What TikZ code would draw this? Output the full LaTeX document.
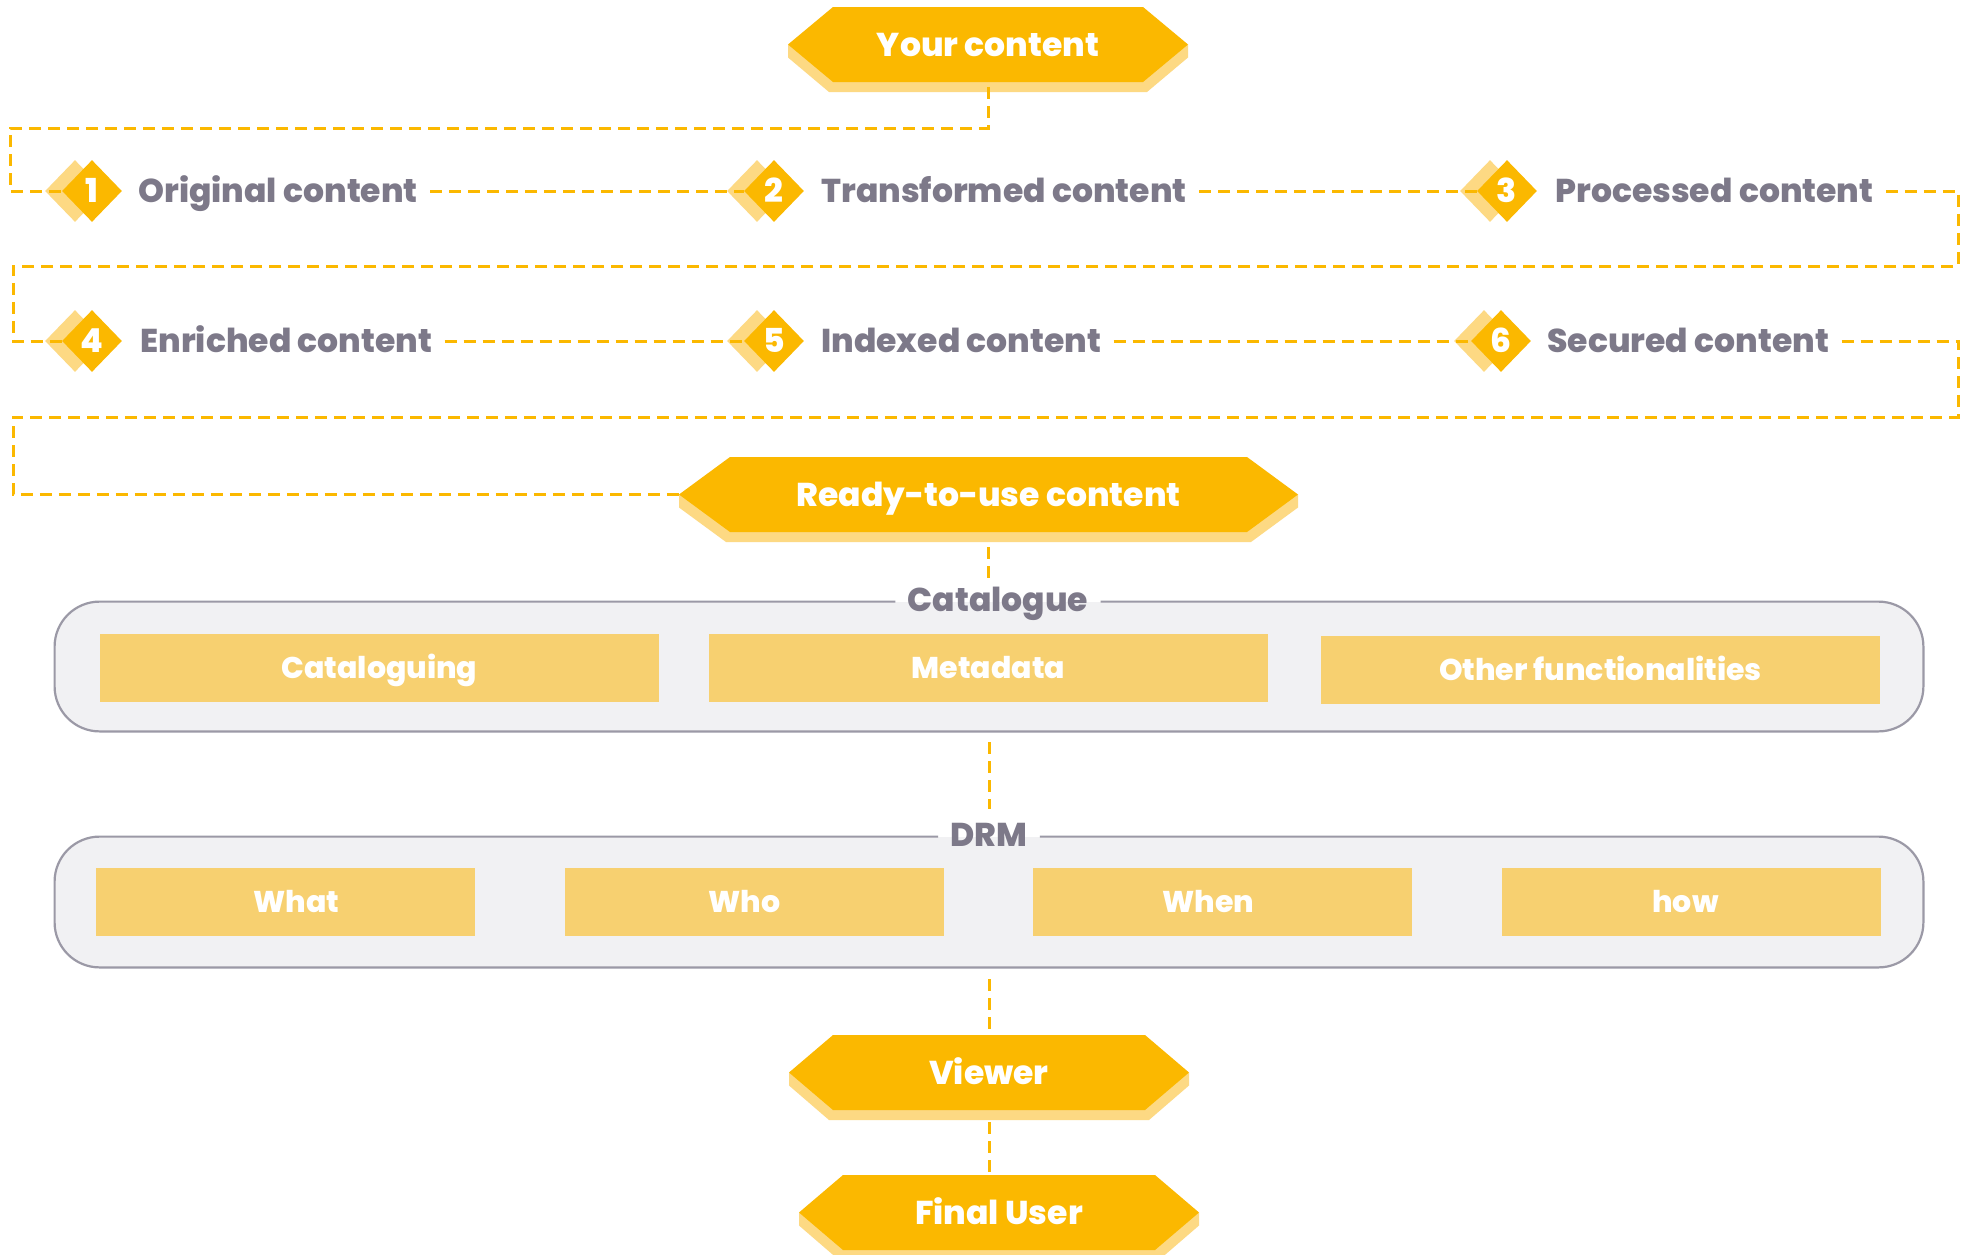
\documentclass[tikz,border=0pt]{standalone}
\usepackage{fontspec}
\setmainfont{Poppins}[BoldFont={Poppins ExtraBold}]
\usetikzlibrary{shapes.geometric}
\definecolor{orn}{HTML}{FBB800}
\definecolor{shd}{HTML}{FDD983}
\definecolor{inb}{HTML}{F7D070}
\definecolor{boxf}{HTML}{F1F1F3}
\definecolor{boxl}{HTML}{9B99A6}
\definecolor{txtg}{HTML}{7D7989}
\pgfdeclarelayer{bglayer}
\pgfdeclarelayer{shadowlayer}
\pgfdeclarelayer{linelayer}
\pgfsetlayers{bglayer,shadowlayer,linelayer,main}
\newcommand{\lblfont}{\bfseries\fontsize{16.5}{20}\selectfont}
\newcommand{\inbfont}{\bfseries\fontsize{15}{18}\selectfont}
\tikzset{
  capbox/.style={text height=11.5pt, text depth=0pt, inner ysep=0pt},
  hextext/.style={capbox, inner xsep=0pt, text=white, font=\lblfont},
  lbl/.style={capbox, inner xsep=6pt, anchor=west, text=txtg, font=\lblfont},
  dia/.style={diamond, aspect=1, minimum width=30pt, minimum height=31pt, inner sep=0pt, fill=orn, text=white, font=\lblfont, text height=11.5pt, text depth=0pt},
  diash/.style={diamond, aspect=1, minimum width=30pt, minimum height=31pt, inner sep=0pt, fill=shd},
  dashc/.style={draw=orn, line width=1.5pt, dash pattern=on 6pt off 3.5pt},
  boxline/.style={draw=boxl, line width=1.1pt, rounded corners=22.5pt},
  bigbox/.style={fill=boxf, rounded corners=22.5pt, inner sep=0pt, minimum width=934pt},
  ibox/.style={text height=10.5pt, text depth=0pt, inner ysep=0pt, fill=inb, minimum height=34pt, inner xsep=0pt, text=white, font=\inbfont},
  grplbl/.style={capbox, inner xsep=6pt, text=txtg, font=\lblfont},
}
% name, L, R, top, bottom, indent, text
\newcommand{\myhex}[7]{%
  \begin{pgfonlayer}{shadowlayer}
    \fill[shd] (#2,{(#4+#5)/2+13}) -- (#2+#6-4,#5+10) -- (#3-#6+4,#5+10) -- (#3,{(#4+#5)/2+13}) -- (#3,{(#4+#5)/2}) -- (#2,{(#4+#5)/2}) -- cycle;
  \end{pgfonlayer}
  \fill[orn] (#2,{(#4+#5)/2}) -- (#2+#6,#4) -- (#3-#6,#4) -- (#3,{(#4+#5)/2}) -- (#3-#6,#5) -- (#2+#6,#5) -- cycle;
  \node[hextext, minimum height={(#5-#4)*0.5pt}] (#1) at ({(#2+#3)/2},{(#4+#5)/2}) {#7};
  \coordinate (#1-w) at (#2,{(#4+#5)/2});
}
\begin{document}
\begin{tikzpicture}[x=0.5pt,y=-0.5pt]
\useasboundingbox (0,0) rectangle (1970,1254);
\begin{pgfonlayer}{bglayer}
  \fill[white] (0,0) rectangle (1970,1254);
\end{pgfonlayer}

% hexagons
\myhex{yc}{788}{1188}{7}{82}{45}{Your content}
\myhex{rdy}{679}{1298}{457}{532}{51}{Ready-to-use content}
\myhex{vw}{789}{1189}{1035}{1110}{44}{Viewer}
\myhex{fu}{799}{1199}{1175}{1250}{44}{Final User}

% diamonds with shadows
\begin{pgfonlayer}{shadowlayer}
  \node[diash] (s1) at (75,191) {};
  \node[diash] (s2) at (757,191) {};
  \node[diash] (s3) at (1490,191) {};
  \node[diash] (s4) at (75,341) {};
  \node[diash] (s5) at (757,341) {};
  \node[diash] (s6) at (1484,341) {};
\end{pgfonlayer}
\node[dia] (d1) at (92,191) {1};
\node[dia] (d2) at (774,191) {2};
\node[dia] (d3) at (1507,191) {3};
\node[dia] (d4) at (92,341) {4};
\node[dia] (d5) at (774,341) {5};
\node[dia] (d6) at (1501,341) {6};

% step labels
\node[lbl] (l1) at (126,191) {Original content};
\node[lbl] (l2) at (809,191) {Transformed content};
\node[lbl] (l3) at (1543,191) {Processed content};
\node[lbl] (l4) at (128,341) {Enriched content};
\node[lbl] (l5) at (809,341) {Indexed content};
\node[lbl] (l6) at (1535,341) {Secured content};

% corner coordinates
\coordinate (c2) at (10,128);
\coordinate (c4) at (1958,266);
\coordinate (c5) at (13,266);
\coordinate (c7) at (1958,417);
\coordinate (c8) at (13,417);

% big boxes
\node[bigbox, minimum height=64.5pt] (cat) at (989,666.5) {};
\node[grplbl] (catlbl) at (998,600) {Catalogue};
\draw[boxline] (catlbl.west |- cat.north) -- (cat.north west) -- (cat.south west) -- (cat.south east) -- (cat.north east) -- (catlbl.east |- cat.north);

\node[bigbox, minimum height=65pt] (drm) at (989,902) {};
\node[grplbl] (drmlbl) at (989,835) {DRM};
\draw[boxline] (drmlbl.west |- drm.north) -- (drm.north west) -- (drm.south west) -- (drm.south east) -- (drm.north east) -- (drmlbl.east |- drm.north);

% inner boxes
\node[ibox, minimum width=279.5pt] (b1) at (379.5,668) {Cataloguing};
\node[ibox, minimum width=279.5pt] (b2) at (988.5,668) {Metadata};
\node[ibox, minimum width=279.5pt] (b3) at (1600.5,669.5) {Other functionalities};
\node[ibox, minimum width=189.5pt] (w1) at (285.5,902) {\hspace*{11pt}What};
\node[ibox, minimum width=189.5pt] (w2) at (754.5,902) {Who\hspace*{10pt}};
\node[ibox, minimum width=189.5pt] (w3) at (1222.5,902) {When\hspace*{14pt}};
\node[ibox, minimum width=189.5pt] (w4) at (1691.5,902) {how\hspace*{6pt}};

% connectors
\begin{pgfonlayer}{linelayer}
  \draw[dashc, shorten <=2.5pt] (yc.south) |- (c2) |- (d1.west);
  \draw[dashc] (l1.east) -- (d2.west);
  \draw[dashc] (l2.east) -- (d3.west);
  \draw[dashc] (l3.east) -| (c4) -- (c5) |- (d4.west);
  \draw[dashc] (l4.east) -- (d5.west);
  \draw[dashc] (l5.east) -- (d6.west);
  \draw[dashc] (l6.east) -| (c7) -- (c8) |- (rdy-w);
  \draw[dashc, shorten <=7.5pt, shorten >=5pt] (rdy.south) -- (rdy.south |- catlbl.north);
  \draw[dashc, shorten <=5.5pt, shorten >=7pt] (cat.south) -- (drmlbl.north);
  \draw[dashc, shorten <=6pt, shorten >=2pt] (drm.south) -- (vw.north);
  \draw[dashc, shorten <=6pt, shorten >=1.5pt] (vw.south) -- (vw.south |- fu.north);
\end{pgfonlayer}
\end{tikzpicture}
\end{document}
